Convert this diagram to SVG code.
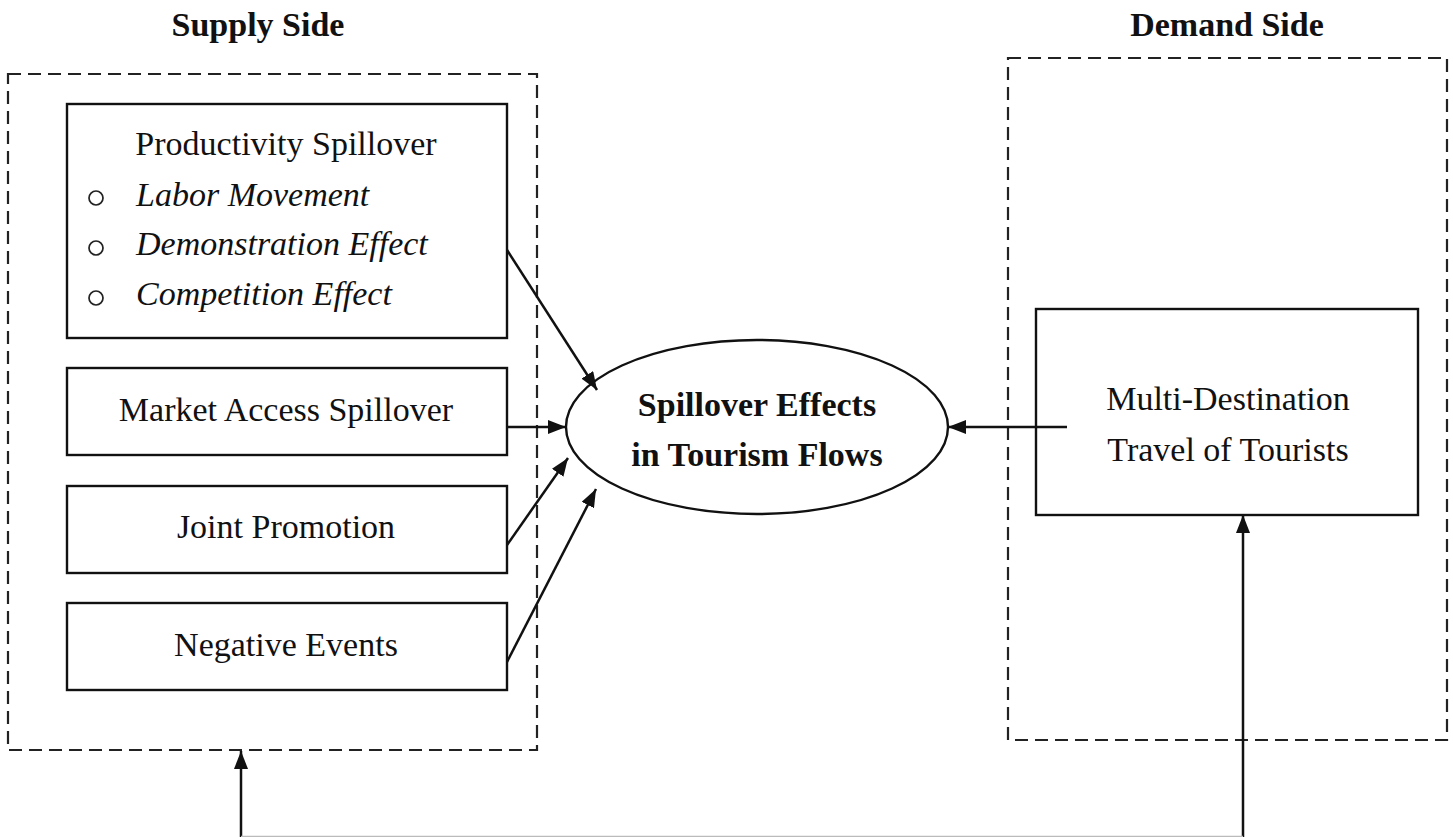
<svg xmlns="http://www.w3.org/2000/svg" width="1453" height="837" viewBox="0 0 1453 837">
<style>
.t{font-family:"Liberation Serif","Times New Roman",serif;font-size:34px;fill:#111}
.b{font-weight:bold}
.i{font-style:italic}
.box{fill:#fff;stroke:#111;stroke-width:2.4}
.dash{fill:none;stroke:#222;stroke-width:2.2;stroke-dasharray:13 7}
.c{fill:none;stroke:#111;stroke-width:2.5}
.bul{fill:none;stroke:#222;stroke-width:1.7}
</style>
<defs>
<marker id="ah" viewBox="0 0 18 14" refX="18" refY="7" markerWidth="18" markerHeight="14" markerUnits="userSpaceOnUse" orient="auto">
<path d="M0,0 L18,7 L0,14 Z" fill="#111"/>
</marker>
</defs>
<rect width="1453" height="837" fill="#fff"/>
<g id="supply-side">
<rect class="dash" x="8" y="74" width="529" height="676"/>
<text class="t b" x="258" y="36" text-anchor="middle">Supply Side</text>
</g>
<g id="demand-side">
<rect class="dash" x="1008" y="58" width="439" height="682"/>
<text class="t b" x="1227" y="36" text-anchor="middle">Demand Side</text>
</g>
<g id="productivity">
<rect class="box" x="67" y="104" width="440" height="234"/>
<text class="t" x="286" y="155" text-anchor="middle">Productivity Spillover</text>
<circle class="bul" cx="96" cy="198" r="7"/>
<circle class="bul" cx="96" cy="248" r="7"/>
<circle class="bul" cx="96" cy="298" r="7"/>
<text class="t i" x="136" y="206">Labor Movement</text>
<text class="t i" x="136" y="255">Demonstration Effect</text>
<text class="t i" x="136" y="305">Competition Effect</text>
</g>
<g id="market-access">
<rect class="box" x="67" y="368" width="440" height="87"/>
<text class="t" x="286" y="421" text-anchor="middle">Market Access Spillover</text>
</g>
<g id="joint-promotion">
<rect class="box" x="67" y="486" width="440" height="87"/>
<text class="t" x="286" y="538" text-anchor="middle">Joint Promotion</text>
</g>
<g id="negative-events">
<rect class="box" x="67" y="603" width="440" height="87"/>
<text class="t" x="286" y="656" text-anchor="middle">Negative Events</text>
</g>
<g id="spillover-effects">
<ellipse class="box" cx="757" cy="427" rx="191" ry="87"/>
<text class="t b" x="757" y="416" text-anchor="middle">Spillover Effects</text>
<text class="t b" x="757" y="466" text-anchor="middle">in Tourism Flows</text>
</g>
<g id="multi-destination">
<rect class="box" x="1036" y="309" width="382" height="206"/>
<text class="t" x="1228" y="410" text-anchor="middle">Multi-Destination</text>
<text class="t" x="1228" y="461" text-anchor="middle">Travel of Tourists</text>
</g>
<g id="connectors">
<line class="c" x1="507" y1="250" x2="597" y2="390" marker-end="url(#ah)"/>
<line class="c" x1="507" y1="427" x2="566" y2="427" marker-end="url(#ah)"/>
<line class="c" x1="507" y1="545" x2="568" y2="458" marker-end="url(#ah)"/>
<line class="c" x1="507" y1="662" x2="596" y2="489" marker-end="url(#ah)"/>
<line class="c" x1="1067" y1="427" x2="948" y2="427" marker-end="url(#ah)"/>
<line class="c" x1="1243" y1="837" x2="1243" y2="515" marker-end="url(#ah)"/>
<line class="c" x1="241" y1="837" x2="241" y2="751" marker-end="url(#ah)"/>
<line x1="241" y1="836.5" x2="1243" y2="836.5" stroke="#bbb" stroke-width="1.5"/>
</g>
</svg>
